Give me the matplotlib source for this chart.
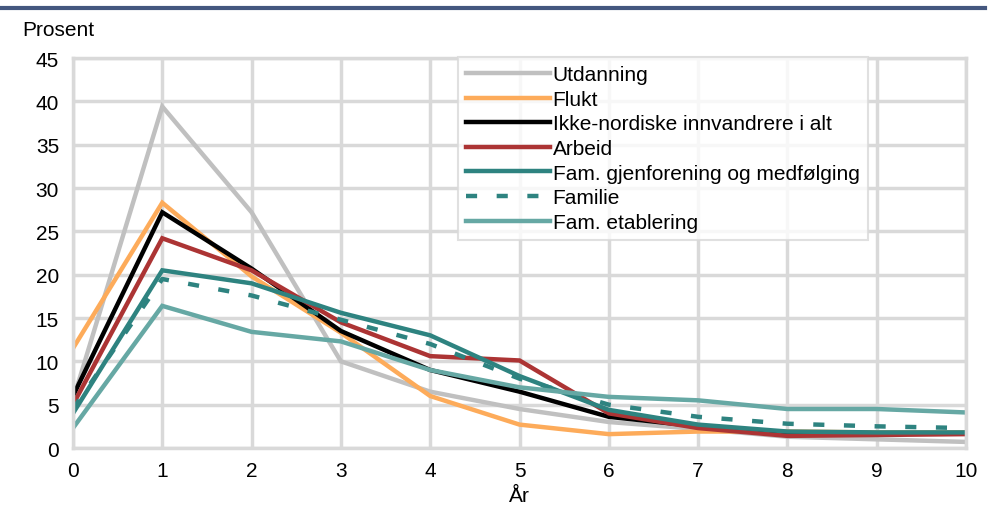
import matplotlib.pyplot as plt
from matplotlib.lines import Line2D

plt.rcParams['font.family'] = ['Liberation Sans', 'DejaVu Sans']

# Years since arrival
years = [0, 1, 2, 3, 4, 5, 6, 7, 8, 9, 10]

utdanning = [5.5, 39.4, 27.2, 10.0, 6.5, 4.5, 3.0, 2.2, 1.3, 1.0, 0.7]
flukt = [11.5, 28.3, 19.8, 13.3, 6.0, 2.7, 1.6, 1.9, 1.9, 1.8, 1.8]
ikke_nordiske = [6.0, 27.2, 20.7, 13.5, 9.0, 6.5, 3.6, 2.5, 1.8, 1.7, 1.7]
arbeid = [5.0, 24.2, 20.5, 14.5, 10.6, 10.1, 4.0, 2.3, 1.4, 1.5, 1.6]
fam_gjenforening = [4.0, 20.5, 19.0, 15.6, 13.0, 8.3, 4.4, 2.7, 1.9, 1.8, 1.8]
familie = [4.5, 19.5, 17.6, 14.8, 12.0, 8.0, 5.0, 3.6, 2.8, 2.5, 2.3]
fam_etablering = [2.3, 16.4, 13.4, 12.3, 9.0, 7.0, 5.9, 5.5, 4.5, 4.5, 4.1]

series = [
    ('Utdanning', utdanning, '#c0c0c0', '-'),
    ('Flukt', flukt, '#fdab5a', '-'),
    ('Ikke-nordiske innvandrere i alt', ikke_nordiske, '#000000', '-'),
    ('Arbeid', arbeid, '#ac3434', '-'),
    ('Fam. gjenforening og medfølging', fam_gjenforening, '#2e8380', '-'),
    ('Familie', familie, '#2e8380', (0, (2.5, 4.4))),
    ('Fam. etablering', fam_etablering, '#66a8a4', '-'),
]

fig = plt.figure(figsize=(9.9, 5.1), dpi=100)
ax = fig.add_axes([0.0737, 0.1196, 0.9021, 0.7647])

for label, vals, color, ls in series:
    ax.plot(years, vals, color=color, linestyle=ls, linewidth=3.2, label=label,
            solid_joinstyle='miter')

ax.set_xlim(0, 10)
ax.set_ylim(0, 45)
ax.set_xticks(years)
ax.set_yticks(range(0, 46, 5))
ax.grid(True, color='#d9d9d9', linewidth=2.5)
ax.set_axisbelow(True)
for s in ax.spines.values():
    s.set_color('#d9d9d9')
    s.set_linewidth(2.5)
ax.tick_params(length=0, labelsize=15)
ax.tick_params(axis='x', pad=9)
ax.tick_params(axis='y', pad=10)
ax.set_xlabel('År', fontsize=15, labelpad=5)

fig.text(0.022, 0.941, 'Prosent', fontsize=15, va='center')

# dark rule at the top of the figure
fig.add_artist(Line2D([0.0, 0.995], [0.982, 0.982], color='#44577f', linewidth=3,
                      transform=fig.transFigure))

leg = ax.legend(loc='upper left', bbox_to_anchor=(0.431, 1.003), fontsize=15,
                frameon=True, fancybox=False, handlelength=4.0, handletextpad=0.15,
                labelspacing=0.27, borderpad=0.4, borderaxespad=0)
leg.get_frame().set_edgecolor('#d9d9d9')
leg.get_frame().set_linewidth(1.5)

fig.savefig('out.png', dpi=100)
